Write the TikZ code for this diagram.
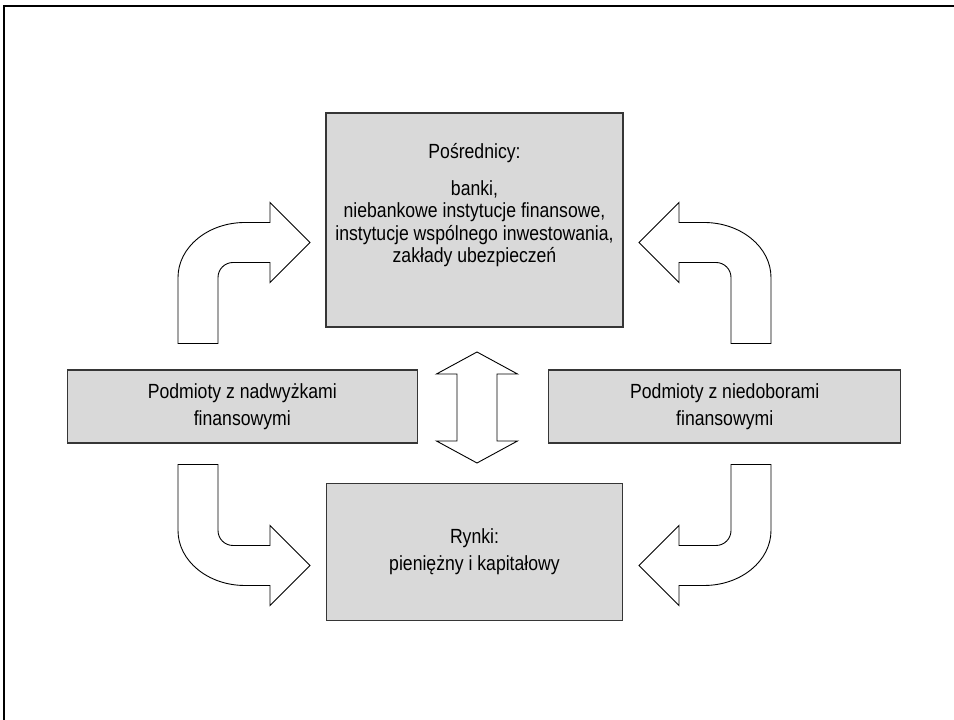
\documentclass[tikz,border=0pt]{standalone}
\usepackage{fontspec}
\setmainfont{Liberation Sans}[FakeStretch=0.86]
\usetikzlibrary{positioning,calc}
\definecolor{boxGrey}{HTML}{D9D9D9}
\definecolor{edgeGrey}{HTML}{363636}
\tikzset{
  pics/bendarrow/.style={code={
    \draw[blockarr] (-296.5,60.5) -- (-256.5,60.5) -- (-256.5,126.5)
      arc[start angle=180, end angle=90, radius=15pt] -- (-204.5,141.5)
      -- (-204.5,121.5) -- (-164.5,161.5) -- (-204.5,201.5) -- (-204.5,181.5)
      -- (-229.5,181.5) arc[start angle=90, end angle=180, x radius=67pt, y radius=55pt] -- cycle;
  }}
}

\begin{document}
\begin{tikzpicture}[x=1pt, y=1pt,
    box/.style={draw=edgeGrey, line width=1.4pt, fill=boxGrey, align=center, inner sep=0pt, font=\fontsize{20.5}{26.5}\selectfont},
    blockarr/.style={draw=black, line width=0.9pt, fill=white, line join=miter}
  ]
    \useasboundingbox (0,0) rectangle (954,720);
    \draw[line width=1.5pt] (4,0) -- (4,714) -- (954,714);
    \coordinate (axis) at (474.5,316);
    \node[box, minimum width=297pt, minimum height=214pt] (posr) at (474.5,500) {};
    \node[align=center, font=\fontsize{20.5}{22.5}\selectfont] (posrtxt) at ([yshift=15pt]posr.center)
      {Pośrednicy:\\[14.5pt]banki,\\niebankowe instytucje finansowe,\\instytucje wspólnego inwestowania,\\zakłady ubezpieczeń};
    \node[box, minimum width=296pt, minimum height=137pt, below=155pt of posr] (rynki) {Rynki:\\pieniężny i kapitałowy};
    \node[box, minimum width=350pt, minimum height=73pt, left=56.5pt of axis, yshift=-2.5pt] (nadw) {Podmioty z nadwyżkami\\finansowymi};
    \node[box, minimum width=352pt, minimum height=73pt, right=73.5pt of axis, yshift=-2.5pt] (nied) {Podmioty z niedoborami\\finansowymi};
    % bent arrows
    \pic at (axis) {bendarrow};
    \pic[xscale=-1] at (axis) {bendarrow};
    \pic[yscale=-1] at (axis) {bendarrow};
    \pic[xscale=-1, yscale=-1] at (axis) {bendarrow};
    % double arrow
    \coordinate (dbl) at (477,312.5);
    \draw[blockarr, shift={(dbl)}] (-20,-33.5) -- (-40.5,-33.5) -- (0,-55.5) -- (40.5,-33.5) -- (20,-33.5)
      -- (20,33.5) -- (40.5,33.5) -- (0,55.5) -- (-40.5,33.5) -- (-20,33.5) -- cycle;
\end{tikzpicture}
\end{document}
